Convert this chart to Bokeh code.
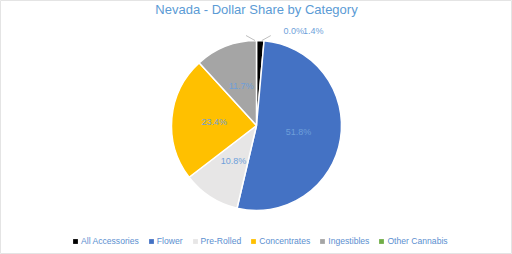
import math
from bokeh.plotting import figure
from bokeh.models import Range1d, Legend, LegendItem
from bokeh.core.properties import value
from bokeh.embed import file_html
from bokeh.resources import INLINE

title = "Nevada - Dollar Share by Category"
categories = ["All Accessories", "Flower", "Pre-Rolled", "Concentrates", "Ingestibles", "Other Cannabis"]
shares = [1.4, 51.8, 10.8, 23.4, 11.7, 0.0]
colors = ["#000000", "#4472C4", "#E7E6E6", "#FFC000", "#A5A5A5", "#70AD47"]

W, H = 512, 254
CX, CY, R = 256, 254 - 125, 85
FONT = "Liberation Sans"
LBL = "#6E9FDA"

p = figure(width=W, height=H, output_backend="svg", toolbar_location=None,
           x_range=Range1d(0, W), y_range=Range1d(0, H), min_border=0)
p.axis.visible = False
p.grid.visible = False
p.outline_line_color = "#E4E4E4"
p.background_fill_color = "white"
p.border_fill_color = "white"

total = sum(shares)
starts, ends, mids = [], [], []
acc = 0.0
for s in shares:
    a0 = acc / total * 2 * math.pi
    acc += s
    a1 = acc / total * 2 * math.pi
    starts.append(math.pi / 2 - a0)
    ends.append(math.pi / 2 - a1)
    mids.append((a0 + a1) / 2)

nan = float("nan")
items = []
for i, c in enumerate(categories):
    if shares[i] > 0:
        p.wedge(x=CX, y=CY, radius=R, start_angle=starts[i], end_angle=ends[i],
                direction="clock", fill_color=colors[i], line_color="white",
                line_width=1.5)
    swatch = p.quad(left=[nan], right=[nan], top=[nan], bottom=[nan],
                    fill_color=colors[i], line_color=None)
    items.append(LegendItem(label=c, renderers=[swatch]))

# labels inside
in_x, in_y, in_t = [], [], []
for i, s in enumerate(shares):
    if s >= 5:
        in_x.append(CX + 0.5 * R * math.sin(mids[i]))
        in_y.append(CY + 0.5 * R * math.cos(mids[i]))
        in_t.append(f"{s:.1f}%")
p.text(x=in_x, y=in_y, text=in_t, text_font=value(FONT), text_font_size="9px",
       text_color=LBL, text_align="center", text_baseline="middle")

# small slices: leader lines + outside labels
small = [i for i, s in enumerate(shares) if s < 5]
small_sorted = sorted(small, key=lambda i: (mids[i] if mids[i] < math.pi else mids[i] - 2 * math.pi))
lx0 = CX + 27
for k, i in enumerate(small_sorted):
    m = mids[i]
    side = -1 if m > math.pi else 1
    x0 = CX + R * math.sin(m) + side * 1.5
    y0 = CY + R * math.cos(m)
    p.line(x=[x0, x0 + side * 9], y=[y0, y0 + 5], line_color="#BFBFBF", line_width=1)
    p.text(x=[lx0 + k * 19.5], y=[254 - 30], text=[f"{shares[i]:.1f}%"],
           text_font=value(FONT), text_font_size="9px", text_color=LBL,
           text_align="left", text_baseline="middle")

# title
p.text(x=[W / 2], y=[H - 9], text=[title], text_font=value(FONT),
       text_font_size="13px", text_color="#5B9BD5", text_align="center",
       text_baseline="middle")

legend = Legend(items=items, orientation="horizontal", location=(72, 8),
                glyph_width=6, glyph_height=6, label_standoff=3, spacing=9,
                padding=0, margin=0, border_line_color=None,
                background_fill_alpha=0, label_text_font=FONT,
                label_text_font_size="8.6px", label_text_color="#5B8FD0",
                label_height=9)
p.add_layout(legend, "center")

open("out.html", "w").write(file_html(p, INLINE))
